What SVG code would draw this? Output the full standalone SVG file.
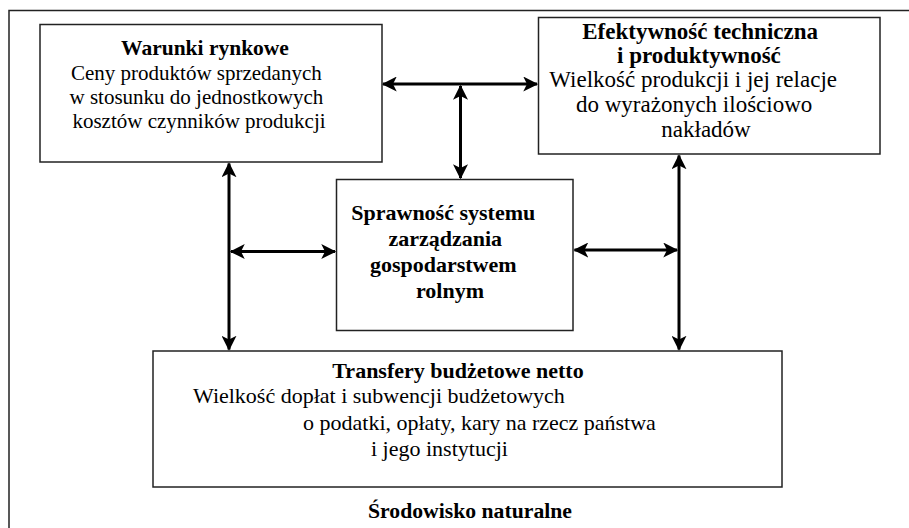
<svg xmlns="http://www.w3.org/2000/svg" width="909" height="528" viewBox="0 0 909 528">
<defs>
<style>
.box{fill:#fff;stroke:#222;stroke-width:1.5}
.frame{fill:none;stroke:#222;stroke-width:1.5}
.t{fill:#000}
.b{font-weight:bold}
.c{stroke:#000;stroke-width:3;fill:none;marker-start:url(#ah);marker-end:url(#ah)}
</style>
<marker id="ah" viewBox="0 0 12 12" refX="11" refY="6" markerWidth="5" markerHeight="5" markerUnits="strokeWidth" orient="auto-start-reverse">
<path d="M0,0 L12,6 L0,12 L3,6 Z" fill="#000"/>
</marker>
</defs>
<rect width="909" height="528" fill="#fff"/>
<path class="frame" d="M9,528 L9,10.5 L909,10.5"/>
<g id="connectors">
<line class="c" x1="383" y1="84" x2="537" y2="84"/>
<line class="c" x1="460.5" y1="86" x2="460.5" y2="178"/>
<line class="c" x1="229" y1="163.5" x2="229" y2="349.5"/>
<line class="c" x1="231" y1="251.5" x2="335" y2="251.5"/>
<line class="c" x1="679" y1="155.5" x2="679" y2="349.5"/>
<line class="c" x1="574.5" y1="250" x2="677" y2="250"/>
</g>
<g font-family="Liberation Serif, Times New Roman, DejaVu Serif, serif">
<g id="warunki">
<rect class="box" x="40" y="24.5" width="342" height="137.5"/>
<text class="t b" x="205" y="55" font-size="21.5" text-anchor="middle">Warunki rynkowe</text>
<text class="t" font-size="21" text-anchor="middle">
<tspan x="199" y="80">Ceny produktów sprzedanych</tspan>
<tspan x="199" y="104">w stosunku do jednostkowych</tspan>
<tspan x="199" y="128">kosztów czynników produkcji</tspan>
</text>
</g>
<g id="efektywnosc">
<rect class="box" x="538.5" y="17.5" width="341.5" height="136.5"/>
<text class="t b" font-size="23">
<tspan x="703" y="39" text-anchor="middle">Efektywność techniczna</tspan>
<tspan x="617" y="63">i produktywność</tspan>
</text>
<text class="t" font-size="23" text-anchor="middle">
<tspan x="696" y="87">Wielkość produkcji i jej relacje</tspan>
<tspan x="697" y="112">do wyrażonych ilościowo</tspan>
<tspan x="706" y="137">nakładów</tspan>
</text>
</g>
<g id="sprawnosc">
<rect class="box" x="336.5" y="179.5" width="236.5" height="151"/>
<text class="t b" font-size="22" text-anchor="middle">
<tspan x="446" y="220">Sprawność systemu</tspan>
<tspan x="448" y="246">zarządzania</tspan>
<tspan x="446" y="272">gospodarstwem</tspan>
<tspan x="450" y="298">rolnym</tspan>
</text>
</g>
<g id="transfery">
<rect class="box" x="153" y="351" width="629" height="136"/>
<text class="t b" x="458" y="378" font-size="22" text-anchor="middle">Transfery budżetowe netto</text>
<text class="t" font-size="22">
<tspan x="193" y="403">Wielkość dopłat i subwencji budżetowych</tspan>
<tspan x="303" y="430">o podatki, opłaty, kary na rzecz państwa</tspan>
<tspan x="371" y="456">i jego instytucji</tspan>
</text>
</g>
<g id="srodowisko">
<text class="t b" x="470" y="518" font-size="21.7" text-anchor="middle">Środowisko naturalne</text>
</g>
</g>
</svg>
